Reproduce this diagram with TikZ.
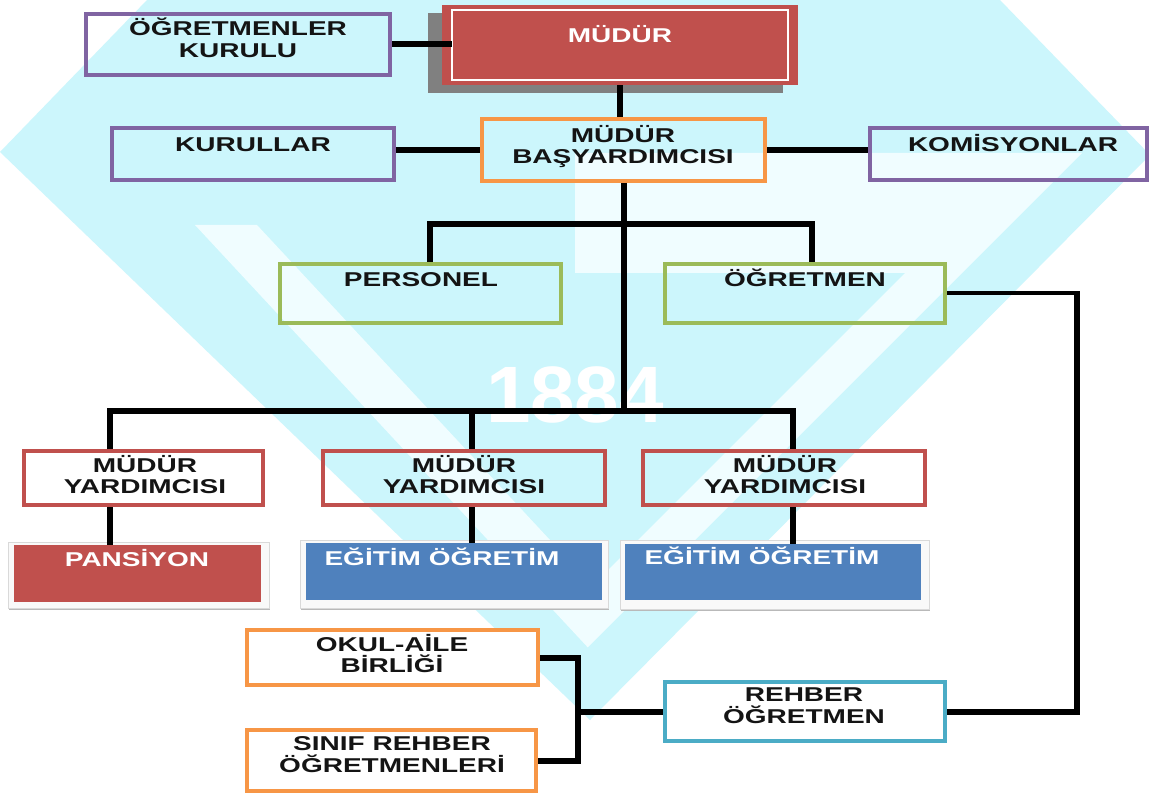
\documentclass[tikz,border=0pt]{standalone}
\usepackage{fontspec}
\setmainfont{Liberation Sans}
\newfontfamily\boxfont[FakeStretch=1.4]{Liberation Sans}
\usetikzlibrary{calc}
\definecolor{bgcyan}{RGB}{204,246,252}
\definecolor{bglight}{RGB}{240,253,255}
\definecolor{offpurple}{RGB}{128,100,162}
\definecolor{offorange}{RGB}{247,150,70}
\definecolor{offgreen}{RGB}{155,187,89}
\definecolor{offred}{RGB}{192,80,77}
\definecolor{offblue}{RGB}{79,129,189}
\definecolor{offteal}{RGB}{75,172,198}
\definecolor{txtblack}{RGB}{20,20,20}
\definecolor{shadowgray}{RGB}{128,128,128}
\begin{document}
\begin{tikzpicture}[x=1pt,y=-1pt,
  frame/.style={draw, line width=4pt, inner sep=0pt},
  conn/.style={line width=6pt, draw=black},
  lbl/.style={font=\boxfont\bfseries\fontsize{20}{21.5}\selectfont, text=txtblack, align=center, inner sep=0pt,
    execute at begin node={\rule{0pt}{18.5pt}}, execute at end node={\rule[-5pt]{0pt}{5pt}}},
  wlbl/.style={lbl, text=white},
  tile/.style={inner sep=0pt, draw=none},
  tileframe/.style={fill=gray!5, draw=gray!30, line width=0.8pt},
  tileshadow/.style={fill=gray!55},
]
\useasboundingbox (0,0) rectangle (1149,794);
% background watermark
\fill[white] (0,0) rectangle (1149,794);
\fill[bgcyan] (147,0) -- (1000,0) -- (1150,155) -- (590,720) -- (0,152) -- cycle;
\fill[bglight] (195,225) -- (587.7,647.3) -- (1082,153) -- (575,153) -- (575,273) -- (905,273) -- (592.4,585.6) -- (257,225) -- cycle;
\node[font=\bfseries\fontsize{80}{80}\selectfont, text=white, inner sep=0pt] (year) at (575,395) {1884};

% outlined boxes
\node[frame, draw=offpurple, minimum width=304pt, minimum height=61pt] (kurul) at (238,44.5) {};
\node[frame, draw=offorange, minimum width=283pt, minimum height=62pt] (basyard) at (623.5,150) {};
\node[frame, draw=offpurple, minimum width=282pt, minimum height=52pt] (kurullar) at (253,154) {};
\node[frame, draw=offpurple, minimum width=277pt, minimum height=52pt] (komis) at (1008.5,154) {};
\node[frame, draw=offgreen, minimum width=281pt, minimum height=59pt] (personel) at (420.5,293.5) {};
\node[frame, draw=offgreen, minimum width=280pt, minimum height=59pt] (ogretmen) at (805,293.5) {};
\node[frame, draw=offred, minimum width=239pt, minimum height=54pt] (my1) at (143.5,478) {};
\node[frame, draw=offred, minimum width=282pt, minimum height=54pt] (my2) at (464,478) {};
\node[frame, draw=offred, minimum width=282pt, minimum height=54pt] (my3) at (784,478) {};
\node[frame, draw=offorange, fill=white, minimum width=291pt, minimum height=55pt] (okul) at (392.5,657.5) {};
\node[frame, draw=offorange, fill=white, minimum width=289pt, minimum height=61pt] (sinif) at (391.5,760.5) {};
\node[frame, draw=offteal, fill=white, minimum width=280pt, minimum height=59pt] (rehber) at (805,711.5) {};

% MUDUR box with shadow
\fill[shadowgray] (428,13) rectangle (783,93);
\node[tile, fill=offred, minimum width=356pt, minimum height=80pt] (mudur) at (620,45) {};
\draw[white, line width=1.5pt] (452,10) rectangle (788,80);

% filled tiles
\fill[tileshadow] (9,545) rectangle (270,610);
\filldraw[tileframe] (8,542) rectangle (269,608);
\node[tile, fill=offred, minimum width=247pt, minimum height=57pt] (pansiyon) at (137.5,573.5) {};
\fill[tileshadow] (301,543) rectangle (609,610);
\filldraw[tileframe] (300,540) rectangle (608,608);
\node[tile, fill=offblue, minimum width=296pt, minimum height=57pt] (egitim1) at (454,571.5) {};
\fill[tileshadow] (621,543) rectangle (930,611);
\filldraw[tileframe] (620,540) rectangle (929,609);
\node[tile, fill=offblue, minimum width=296pt, minimum height=56pt] (egitim2) at (773,572) {};

% connectors
\coordinate (jp) at (430,224);
\coordinate (jo) at (812,224);
\coordinate (b1) at (110,411);
\coordinate (b2) at (472,411);
\coordinate (b3) at (793,411);
\coordinate (rr) at (1077,0);
\coordinate (br) at (578,0);
\draw[conn] (kurul.east) -- ([xshift=10pt]kurul.east -| mudur.west);
\draw[conn] (mudur.south) -- (mudur.south |- basyard.north);
\draw[conn] (kurullar.east |- basyard.west) -- (basyard.west);
\draw[conn] (basyard.east) -- (basyard.east -| komis.west);
\draw[conn] (basyard.south) -- (basyard.south |- b1);
\draw[conn] (jp |- personel.north) -- (jp) -- (jo) -- (jo |- ogretmen.north);
\draw[conn] (b1 |- my1.north) -- (b1) -- (b3) -- (b3 |- my3.north);
\draw[conn] (b2) -- (b2 |- my2.north);
\draw[conn] (b1 |- my1.south) -- (b1 |- pansiyon.north);
\draw[conn] (b2 |- my2.south) -- (b2 |- egitim1.north);
\draw[conn] (b3 |- my3.south) -- (b3 |- egitim2.north);
\draw[line width=4pt] (ogretmen.east) -- ([xshift=3pt]ogretmen.east -| rr);
\draw[conn] ([yshift=2pt]ogretmen.east -| rr) -- (rehber.east -| rr) -- (rehber.east);
\draw[conn] (okul.east) -- (okul.east -| br) -- (sinif.east -| br) -- (sinif.east);
\draw[conn] (rehber.west) -- (rehber.west -| br);

% texts
\node[lbl] (kurul-t) at (238,40) {ÖĞRETMENLER\\KURULU};
\node[wlbl] (mudur-t) at (620,36) {MÜDÜR};
\node[lbl] (basyard-t) at (623,147) {MÜDÜR\\BAŞYARDIMCISI};
\node[lbl] (kurullar-t) at (253,145) {KURULLAR};
\node[lbl] (komis-t) at (1013,145) {KOMİSYONLAR};
\node[lbl] (personel-t) at (421,280) {PERSONEL};
\node[lbl] (ogretmen-t) at (805,280) {ÖĞRETMEN};
\node[lbl] (my1-t) at (145,477) {MÜDÜR\\YARDIMCISI};
\node[lbl] (my2-t) at (464,477) {MÜDÜR\\YARDIMCISI};
\node[lbl] (my3-t) at (785,477) {MÜDÜR\\YARDIMCISI};
\node[wlbl] (pansiyon-t) at (137,560) {PANSİYON};
\node[wlbl] (egitim1-t) at (442,559) {EĞİTİM ÖĞRETİM};
\node[wlbl] (egitim2-t) at (762,558) {EĞİTİM ÖĞRETİM};
\node[lbl] (okul-t) at (392,656) {OKUL-AİLE\\BİRLİĞİ};
\node[lbl] (sinif-t) at (392,757) {SINIF REHBER\\ÖĞRETMENLERİ};
\node[lbl] (rehber-t) at (804,708) {REHBER\\ÖĞRETMEN};
\end{tikzpicture}
\end{document}
